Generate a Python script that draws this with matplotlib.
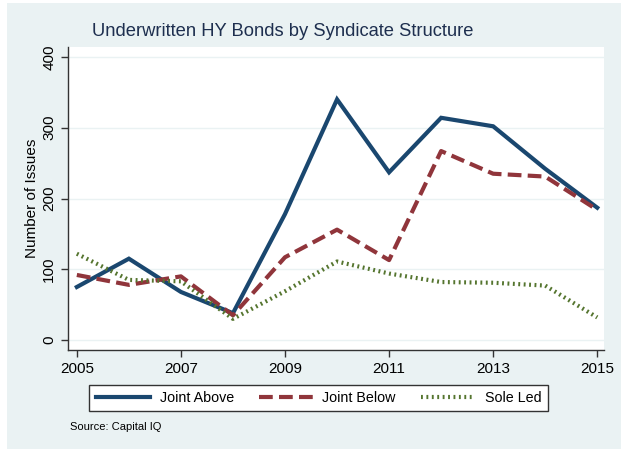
import numpy as np
import matplotlib.pyplot as plt
from matplotlib.patches import Rectangle

plt.rcParams['font.family'] = ['Liberation Sans', 'DejaVu Sans']

# Data
years = [2005, 2006, 2007, 2008, 2009, 2010, 2011, 2012, 2013, 2014, 2015]
joint_above = [75, 115, 68, 38, 178, 340, 237, 314, 302, 242, 187]
joint_below = [92, 78, 90, 35, 117, 156, 113, 267, 235, 231, 184]
sole_led = [122, 85, 83, 30, 69, 111, 94, 82, 81, 77, 32]
xticks = [2005, 2007, 2009, 2011, 2013, 2015]
yticks = [0, 100, 200, 300, 400]

navy = '#1a476f'
maroon = '#90353b'
green = '#55752f'
bg = '#eaf2f3'

W, H = 621, 449
fig = plt.figure(figsize=(6.21, 4.49), dpi=100)
fig.patch.set_facecolor(bg)
# thin white strips on the left and top edge
fig.patches.append(Rectangle((0, 0), 7 / W, 1, transform=fig.transFigure,
                             facecolor='white', edgecolor='none', zorder=-5))
fig.patches.append(Rectangle((0, 1 - 3 / H), 1, 3 / H, transform=fig.transFigure,
                             facecolor='white', edgecolor='none', zorder=-5))

ax = fig.add_axes([68 / W, 1 - 350 / H, (604 - 68) / W, (350 - 47) / H])
ax.set_facecolor('white')

ax.plot(years, joint_above, color=navy, lw=3, solid_joinstyle='miter', label='Joint Above')
ax.plot(years, joint_below, color=maroon, lw=3, dashes=(3.3, 1.5), label='Joint Below')
ax.plot(years, sole_led, color=green, lw=3, dashes=(0.45, 0.85), label='Sole Led')

ax.set_xlim(2004.83, 2015.13)
ax.set_ylim(-14, 414)
ax.set_xticks(xticks)
ax.set_yticks(yticks)
ax.set_yticklabels([str(v) for v in yticks], rotation=90, va='center')
ax.grid(axis='y', color=bg, lw=1)
ax.set_axisbelow(True)
for s in ['top', 'right']:
    ax.spines[s].set_visible(False)
for s in ['left', 'bottom']:
    ax.spines[s].set_color('#333333')
    ax.spines[s].set_linewidth(1)
ax.tick_params(colors='#333333', labelcolor='black', labelsize=11, length=5, width=1)
ax.set_ylabel('Number of Issues', fontsize=11, labelpad=2)

fig.text(283 / W, 1 - 32 / H, 'Underwritten HY Bonds by Syndicate Structure',
         ha='center', va='center', fontsize=13.2, color='#1e2f4f')

leg = fig.legend(loc='center', bbox_to_anchor=(318.5 / W, 1 - 398 / H), ncol=3,
                 frameon=True, fancybox=False, fontsize=10.3, handlelength=3.8,
                 columnspacing=1.75, borderpad=0.45, handletextpad=0.65)
leg.get_frame().set_edgecolor('#333333')
leg.get_frame().set_linewidth(1)
leg.get_frame().set_alpha(1)
leg.get_frame().set_facecolor('white')

fig.text(70 / W, 1 - 427 / H, 'Source: Capital IQ', fontsize=8, va='center')

fig.savefig('out.png', dpi=100, facecolor=fig.get_facecolor())
